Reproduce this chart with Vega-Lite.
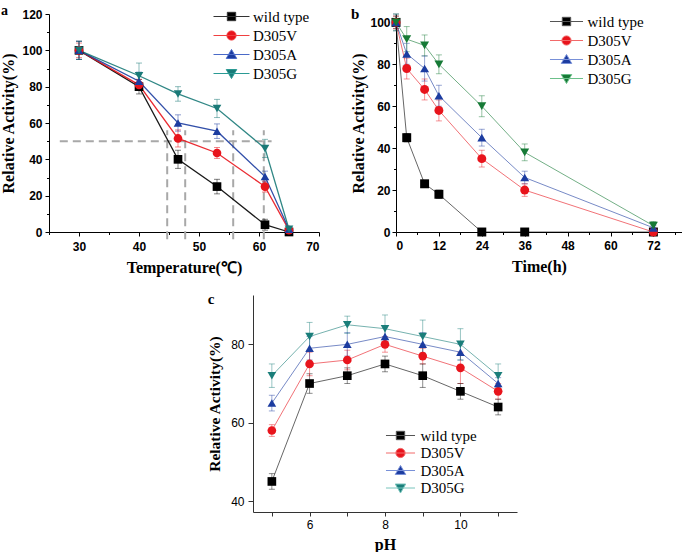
{
  "$schema": "https://vega.github.io/schema/vega-lite/v6.json",
  "padding": {"left": 0, "top": 4, "right": 0, "bottom": 0},
  "background": "white",
  "datasets": {
    "temp": [
      {"temperature": 30, "activity": 100, "error": 5, "series": "wild type"},
      {"temperature": 40, "activity": 80, "error": 4, "series": "wild type"},
      {"temperature": 46.5, "activity": 40, "error": 5, "series": "wild type"},
      {"temperature": 53, "activity": 25, "error": 4, "series": "wild type"},
      {"temperature": 61, "activity": 4, "error": 3, "series": "wild type"},
      {"temperature": 65, "activity": 0, "error": 0, "series": "wild type"},
      {"temperature": 30, "activity": 100, "error": 4, "series": "D305V"},
      {"temperature": 40, "activity": 81, "error": 3, "series": "D305V"},
      {"temperature": 46.5, "activity": 51.5, "error": 4.7, "series": "D305V"},
      {"temperature": 53, "activity": 43.5, "error": 3, "series": "D305V"},
      {"temperature": 61, "activity": 25, "error": 3, "series": "D305V"},
      {"temperature": 65, "activity": 1, "error": 0, "series": "D305V"},
      {"temperature": 30, "activity": 100, "error": 5, "series": "D305A"},
      {"temperature": 40, "activity": 83, "error": 5, "series": "D305A"},
      {"temperature": 46.5, "activity": 60, "error": 4.5, "series": "D305A"},
      {"temperature": 53, "activity": 55.5, "error": 4, "series": "D305A"},
      {"temperature": 61, "activity": 30.5, "error": 3, "series": "D305A"},
      {"temperature": 65, "activity": 1.5, "error": 0, "series": "D305A"},
      {"temperature": 30, "activity": 100, "error": 5, "series": "D305G"},
      {"temperature": 40, "activity": 86, "error": 7, "series": "D305G"},
      {"temperature": 46.5, "activity": 76, "error": 4, "series": "D305G"},
      {"temperature": 53, "activity": 68, "error": 5, "series": "D305G"},
      {"temperature": 61, "activity": 46, "error": 5, "series": "D305G"},
      {"temperature": 65, "activity": 1.5, "error": 0, "series": "D305G"}
    ],
    "dash": [
      {"x": 26.8, "x2": 62.1, "y": 50, "y2": 50},
      {"x": 44.7, "x2": 44.7, "y": -4, "y2": 56},
      {"x": 47.7, "x2": 47.7, "y": -4, "y2": 56},
      {"x": 55.7, "x2": 55.7, "y": -4, "y2": 56},
      {"x": 60.8, "x2": 60.8, "y": -4, "y2": 56}
    ],
    "time": [
      {"time": 0, "activity": 100, "error": 3, "series": "wild type"},
      {"time": 3, "activity": 45, "error": 2, "series": "wild type"},
      {"time": 8, "activity": 23, "error": 1.5, "series": "wild type"},
      {"time": 12, "activity": 18, "error": 2, "series": "wild type"},
      {"time": 24, "activity": 0, "error": 0, "series": "wild type"},
      {"time": 36, "activity": 0, "error": 0, "series": "wild type"},
      {"time": 72, "activity": 0, "error": 0, "series": "wild type"},
      {"time": 0, "activity": 100, "error": 3, "series": "D305V"},
      {"time": 3, "activity": 78, "error": 5, "series": "D305V"},
      {"time": 8, "activity": 68, "error": 5, "series": "D305V"},
      {"time": 12, "activity": 58, "error": 5, "series": "D305V"},
      {"time": 24, "activity": 35, "error": 4, "series": "D305V"},
      {"time": 36, "activity": 20, "error": 3, "series": "D305V"},
      {"time": 72, "activity": 0, "error": 0, "series": "D305V"},
      {"time": 0, "activity": 100, "error": 4, "series": "D305A"},
      {"time": 3, "activity": 85, "error": 5, "series": "D305A"},
      {"time": 8, "activity": 78, "error": 6, "series": "D305A"},
      {"time": 12, "activity": 65, "error": 5, "series": "D305A"},
      {"time": 24, "activity": 45, "error": 4, "series": "D305A"},
      {"time": 36, "activity": 26, "error": 3, "series": "D305A"},
      {"time": 72, "activity": 2, "error": 1, "series": "D305A"},
      {"time": 0, "activity": 100, "error": 4, "series": "D305G"},
      {"time": 3, "activity": 92, "error": 6, "series": "D305G"},
      {"time": 8, "activity": 89, "error": 5, "series": "D305G"},
      {"time": 12, "activity": 80, "error": 4.5, "series": "D305G"},
      {"time": 24, "activity": 60, "error": 5, "series": "D305G"},
      {"time": 36, "activity": 38, "error": 4, "series": "D305G"},
      {"time": 72, "activity": 3, "error": 2, "series": "D305G"}
    ],
    "ph": [
      {"pH": 5, "activity": 45, "error": 2, "series": "wild type"},
      {"pH": 6, "activity": 70, "error": 2.5, "series": "wild type"},
      {"pH": 7, "activity": 72, "error": 2, "series": "wild type"},
      {"pH": 8, "activity": 75, "error": 2, "series": "wild type"},
      {"pH": 9, "activity": 72, "error": 3, "series": "wild type"},
      {"pH": 10, "activity": 68, "error": 2, "series": "wild type"},
      {"pH": 11, "activity": 64, "error": 2, "series": "wild type"},
      {"pH": 5, "activity": 58, "error": 1.5, "series": "D305V"},
      {"pH": 6, "activity": 75, "error": 3, "series": "D305V"},
      {"pH": 7, "activity": 76, "error": 2.5, "series": "D305V"},
      {"pH": 8, "activity": 80, "error": 2, "series": "D305V"},
      {"pH": 9, "activity": 77, "error": 2, "series": "D305V"},
      {"pH": 10, "activity": 74, "error": 4, "series": "D305V"},
      {"pH": 11, "activity": 68, "error": 2, "series": "D305V"},
      {"pH": 5, "activity": 65, "error": 2, "series": "D305A"},
      {"pH": 6, "activity": 79, "error": 3, "series": "D305A"},
      {"pH": 7, "activity": 80, "error": 3, "series": "D305A"},
      {"pH": 8, "activity": 82, "error": 2.5, "series": "D305A"},
      {"pH": 9, "activity": 80, "error": 3, "series": "D305A"},
      {"pH": 10, "activity": 78, "error": 2, "series": "D305A"},
      {"pH": 11, "activity": 70, "error": 1.5, "series": "D305A"},
      {"pH": 5, "activity": 72, "error": 3, "series": "D305G"},
      {"pH": 6, "activity": 82, "error": 3.6, "series": "D305G"},
      {"pH": 7, "activity": 85, "error": 2.2, "series": "D305G"},
      {"pH": 8, "activity": 84, "error": 3.5, "series": "D305G"},
      {"pH": 9, "activity": 82, "error": 4.2, "series": "D305G"},
      {"pH": 10, "activity": 80, "error": 4, "series": "D305G"},
      {"pH": 11, "activity": 72, "error": 3, "series": "D305G"}
    ]
  },
  "resolve": {"scale": {"color": "independent", "shape": "independent", "fill": "independent", "stroke": "independent"}},
  "vconcat": [
    {
      "resolve": {"scale": {"color": "independent", "shape": "independent", "fill": "independent", "stroke": "independent"}},
      "hconcat": [
        {
          "width": 270,
          "height": 218,
          "title": {"text": "a", "anchor": "start", "frame": "bounds", "font": "Liberation Serif", "fontSize": 14, "fontWeight": "bold", "offset": -6, "dy": 4, "color": "#000000"},
          "data": {"name": "temp"},
          "resolve": {"axis": {"x": "independent", "y": "independent"}, "scale": {"shape": "independent", "fill": "independent", "stroke": "independent"}},
          "layer": [
            {
              "data": {"name": "dash"},
              "mark": {"type": "rule", "color": "#a8a8a8", "strokeWidth": 2, "strokeDash": [8, 5]},
              "encoding": {
                "x": {"field": "x", "type": "quantitative", "scale": {"domain": [25, 70], "nice": false, "zero": false}, "axis": null},
                "x2": {"field": "x2"},
                "y": {"field": "y", "type": "quantitative", "scale": {"domain": [0, 120], "nice": false}, "axis": null},
                "y2": {"field": "y2"}
              }
            },
            {
              "mark": {"type": "errorbar", "ticks": {"size": 6, "opacity": 0.5}, "rule": {"opacity": 0.5}},
              "encoding": {
                "x": {"field": "temperature", "type": "quantitative", "axis": null},
                "y": {"field": "activity", "type": "quantitative", "axis": null},
                "yError": {"field": "error"},
                "color": {"field": "series", "type": "nominal", "legend": null}
              }
            },
            {
              "mark": {"type": "line", "strokeWidth": 1.3, "opacity": 0.9},
              "encoding": {
                "x": {"field": "temperature", "type": "quantitative", "axis": {"orient": "bottom", "values": [25, 35, 45, 55, 65], "labels": false, "domain": false, "tickSize": 2.5, "title": null}},
                "y": {"field": "activity", "type": "quantitative", "axis": {"orient": "left", "values": [10, 30, 50, 70, 90, 110], "labels": false, "domain": false, "tickSize": 2.5, "title": null}},
                "color": {"field": "series", "type": "nominal", "legend": null}
              }
            },
            {
              "mark": {"type": "point", "filled": true, "opacity": 1, "size": 75},
              "encoding": {
                "x": {"field": "temperature", "type": "quantitative", "axis": {"orient": "bottom", "values": [30, 40, 50, 60, 70], "title": "Temperature(℃)", "labelPadding": 5, "titlePadding": 7}},
                "y": {"field": "activity", "type": "quantitative", "axis": {"orient": "left", "values": [0, 20, 40, 60, 80, 100, 120], "title": "Relative Activity(%)", "labelPadding": 3, "titlePadding": 5}},
                "color": {"field": "series", "type": "nominal", "scale": {"domain": ["wild type", "D305V", "D305A", "D305G"], "range": ["#000000", "#e8141c", "#1c3ca0", "#1a7a78"]}, "legend": null},
                "shape": {"field": "series", "type": "nominal", "scale": {"domain": ["wild type", "D305V", "D305A", "D305G"], "range": ["square", "circle", "triangle-up", "triangle-down"]}, "legend": null}
              }
            },
            {
              "mark": {"type": "point", "filled": true, "opacity": 0},
              "encoding": {
                "x": {"field": "temperature", "type": "quantitative", "axis": null},
                "y": {"field": "activity", "type": "quantitative", "axis": null},
                "fill": {"field": "series", "type": "nominal", "scale": {"domain": ["wild type", "D305V", "D305A", "D305G"], "range": ["#000000", "#e8141c", "#1c3ca0", "#1a7a78"]},
                  "legend": {"title": null, "orient": "none", "legendX": 175, "legendY": -5, "padding": 0, "symbolSize": 70, "symbolOpacity": 1, "symbolStrokeWidth": 1, "labelOffset": 14, "rowPadding": 3, "labelFont": "Liberation Serif", "labelFontSize": 15, "labelFontWeight": "normal", "labelColor": "#000000"}},
                "stroke": {"field": "series", "type": "nominal", "scale": {"domain": ["wild type", "D305V", "D305A", "D305G"], "range": ["#333333", "#f04040", "#4a6ac8", "#2a9a94"]},
                  "legend": {"title": null, "orient": "none", "legendX": 175, "legendY": -5, "padding": 0, "symbolSize": 70, "symbolOpacity": 1, "symbolStrokeWidth": 1, "labelOffset": 14, "rowPadding": 3, "labelFont": "Liberation Serif", "labelFontSize": 15, "labelFontWeight": "normal", "labelColor": "#000000"}},
                "shape": {"field": "series", "type": "nominal", "scale": {"domain": ["wild type", "D305V", "D305A", "D305G"], "range": ["M-4.3,0H4.3M-1,-1H1V1H-1Z", "M-4.3,0H4.3M-1.1,0A1.1,1.1,0,1,1,1.1,0A1.1,1.1,0,1,1,-1.1,0Z", "M-4.3,0H4.3M0,-1.2L1.25,0.95H-1.25Z", "M-4.3,0H4.3M0,1.2L1.25,-0.95H-1.25Z"]},
                  "legend": {"title": null, "orient": "none", "legendX": 175, "legendY": -5, "padding": 0, "symbolSize": 70, "symbolOpacity": 1, "symbolStrokeWidth": 1, "labelOffset": 14, "rowPadding": 3, "labelFont": "Liberation Serif", "labelFontSize": 15, "labelFontWeight": "normal", "labelColor": "#000000"}}
              }
            }
          ]
        },
        {
          "width": 286,
          "height": 218,
          "title": {"text": "b", "anchor": "start", "frame": "bounds", "font": "Liberation Serif", "fontSize": 15, "fontWeight": "bold", "offset": -6, "dy": 2, "color": "#000000"},
          "data": {"name": "time"},
          "resolve": {"axis": {"x": "independent", "y": "independent"}, "scale": {"shape": "independent", "fill": "independent", "stroke": "independent"}},
          "layer": [
            {
              "mark": {"type": "errorbar", "ticks": {"size": 6, "opacity": 0.45}, "rule": {"opacity": 0.45}},
              "encoding": {
                "x": {"field": "time", "type": "quantitative", "scale": {"domain": [0, 80], "nice": false, "zero": false}, "axis": null},
                "y": {"field": "activity", "type": "quantitative", "scale": {"domain": [0, 104], "nice": false}, "axis": null},
                "yError": {"field": "error"},
                "color": {"field": "series", "type": "nominal", "legend": null}
              }
            },
            {
              "mark": {"type": "line", "strokeWidth": 1, "opacity": 0.6},
              "encoding": {
                "x": {"field": "time", "type": "quantitative", "axis": {"orient": "bottom", "values": [6, 18, 30, 42, 54, 66, 78], "labels": false, "domain": false, "tickSize": 2.5, "title": null}},
                "y": {"field": "activity", "type": "quantitative", "axis": {"orient": "left", "values": [10, 30, 50, 70, 90], "labels": false, "domain": false, "tickSize": 2.5, "title": null}},
                "color": {"field": "series", "type": "nominal", "legend": null}
              }
            },
            {
              "mark": {"type": "point", "filled": true, "opacity": 1, "size": 80},
              "encoding": {
                "x": {"field": "time", "type": "quantitative", "axis": {"orient": "bottom", "values": [0, 12, 24, 36, 48, 60, 72], "title": "Time(h)", "labelPadding": 4.5, "titlePadding": 7}},
                "y": {"field": "activity", "type": "quantitative", "axis": {"orient": "left", "values": [0, 20, 40, 60, 80, 100], "title": "Relative Activity(%)", "labelPadding": 2, "titlePadding": 3}},
                "color": {"field": "series", "type": "nominal", "scale": {"domain": ["wild type", "D305V", "D305A", "D305G"], "range": ["#000000", "#e8141c", "#1c3ca0", "#167a36"]}, "legend": null},
                "shape": {"field": "series", "type": "nominal", "scale": {"domain": ["wild type", "D305V", "D305A", "D305G"], "range": ["square", "circle", "triangle-up", "triangle-down"]}, "legend": null}
              }
            },
            {
              "mark": {"type": "point", "filled": true, "opacity": 0},
              "encoding": {
                "x": {"field": "time", "type": "quantitative", "axis": null},
                "y": {"field": "activity", "type": "quantitative", "axis": null},
                "fill": {"field": "series", "type": "nominal", "scale": {"domain": ["wild type", "D305V", "D305A", "D305G"], "range": ["#000000", "#e8141c", "#1c3ca0", "#167a36"]},
                  "legend": {"title": null, "orient": "none", "legendX": 163, "legendY": 0, "padding": 0, "symbolSize": 70, "symbolOpacity": 1, "symbolStrokeWidth": 1, "labelOffset": 13.5, "rowPadding": 3, "labelFont": "Liberation Serif", "labelFontSize": 15, "labelFontWeight": "normal", "labelColor": "#000000"}},
                "stroke": {"field": "series", "type": "nominal", "scale": {"domain": ["wild type", "D305V", "D305A", "D305G"], "range": ["#555555", "#f26a6a", "#7890d8", "#6cc08a"]},
                  "legend": {"title": null, "orient": "none", "legendX": 163, "legendY": 0, "padding": 0, "symbolSize": 70, "symbolOpacity": 1, "symbolStrokeWidth": 1, "labelOffset": 13.5, "rowPadding": 3, "labelFont": "Liberation Serif", "labelFontSize": 15, "labelFontWeight": "normal", "labelColor": "#000000"}},
                "shape": {"field": "series", "type": "nominal", "scale": {"domain": ["wild type", "D305V", "D305A", "D305G"], "range": ["M-3.95,0H3.95M-1,-1H1V1H-1Z", "M-3.95,0H3.95M-1.1,0A1.1,1.1,0,1,1,1.1,0A1.1,1.1,0,1,1,-1.1,0Z", "M-3.95,0H3.95M0,-1.2L1.25,0.95H-1.25Z", "M-3.95,0H3.95M0,1.2L1.25,-0.95H-1.25Z"]},
                  "legend": {"title": null, "orient": "none", "legendX": 163, "legendY": 0, "padding": 0, "symbolSize": 70, "symbolOpacity": 1, "symbolStrokeWidth": 1, "labelOffset": 13.5, "rowPadding": 3, "labelFont": "Liberation Serif", "labelFontSize": 15, "labelFontWeight": "normal", "labelColor": "#000000"}}
              }
            }
          ]
        }
      ],
      "spacing": 30
    },
    {
      "resolve": {"scale": {"color": "independent", "shape": "independent", "fill": "independent", "stroke": "independent"}},
      "hconcat": [
        {
          "width": 144,
          "height": 10,
          "data": {"values": [{"blank": 0}]},
          "mark": {"type": "point", "opacity": 0},
          "encoding": {}
        },
        {
          "width": 264,
          "height": 217,
          "title": {"text": "c", "anchor": "start", "frame": "bounds", "font": "Liberation Serif", "fontSize": 15, "fontWeight": "bold", "offset": -12, "color": "#000000"},
          "data": {"name": "ph"},
          "resolve": {"axis": {"x": "independent", "y": "independent"}, "scale": {"shape": "independent", "fill": "independent", "stroke": "independent"}},
          "layer": [
            {
              "mark": {"type": "errorbar", "ticks": {"size": 6, "opacity": 0.45}, "rule": {"opacity": 0.45}},
              "encoding": {
                "x": {"field": "pH", "type": "quantitative", "scale": {"domain": [4.5, 11.5], "nice": false, "zero": false}, "axis": null},
                "y": {"field": "activity", "type": "quantitative", "scale": {"domain": [37.2, 92.6], "nice": false, "zero": false}, "axis": null},
                "yError": {"field": "error"},
                "color": {"field": "series", "type": "nominal", "legend": null}
              }
            },
            {
              "mark": {"type": "line", "strokeWidth": 1, "opacity": 0.6},
              "encoding": {
                "x": {"field": "pH", "type": "quantitative", "axis": null},
                "y": {"field": "activity", "type": "quantitative", "axis": null},
                "color": {"field": "series", "type": "nominal", "legend": null}
              }
            },
            {
              "mark": {"type": "point", "filled": true, "opacity": 1, "size": 75},
              "encoding": {
                "x": {"field": "pH", "type": "quantitative", "axis": {"orient": "bottom", "values": [5, 6, 7, 8, 9, 10, 11], "labelExpr": "datum.value % 2 === 0 ? datum.label : ''", "title": "pH", "labelFontWeight": "normal", "domainColor": "#333333", "tickColor": "#333333", "labelPadding": 3, "titlePadding": 6}},
                "y": {"field": "activity", "type": "quantitative", "axis": {"orient": "left", "values": [40, 60, 80], "title": "Relative Activity(%)", "titleFontSize": 15.5, "labelFontWeight": "normal", "domainColor": "#333333", "tickColor": "#333333", "tickSize": 5, "labelPadding": 4, "titlePadding": 8}},
                "color": {"field": "series", "type": "nominal", "scale": {"domain": ["wild type", "D305V", "D305A", "D305G"], "range": ["#000000", "#e8141c", "#1c3ca0", "#1a7e7a"]}, "legend": null},
                "shape": {"field": "series", "type": "nominal", "scale": {"domain": ["wild type", "D305V", "D305A", "D305G"], "range": ["square", "circle", "triangle-up", "triangle-down"]}, "legend": null}
              }
            },
            {
              "mark": {"type": "point", "filled": true, "opacity": 0},
              "encoding": {
                "x": {"field": "pH", "type": "quantitative", "axis": null},
                "y": {"field": "activity", "type": "quantitative", "axis": null},
                "fill": {"field": "series", "type": "nominal", "scale": {"domain": ["wild type", "D305V", "D305A", "D305G"], "range": ["#000000", "#e8141c", "#1c3ca0", "#1a7e7a"]},
                  "legend": {"title": null, "orient": "none", "legendX": 140, "legendY": 133, "padding": 0, "symbolSize": 70, "symbolOpacity": 1, "symbolStrokeWidth": 1, "labelOffset": 12.5, "rowPadding": 1.5, "labelFont": "Liberation Serif", "labelFontSize": 15, "labelFontWeight": "normal", "labelColor": "#000000"}},
                "stroke": {"field": "series", "type": "nominal", "scale": {"domain": ["wild type", "D305V", "D305A", "D305G"], "range": ["#555555", "#f26a6a", "#7890d8", "#78c4bc"]},
                  "legend": {"title": null, "orient": "none", "legendX": 140, "legendY": 133, "padding": 0, "symbolSize": 70, "symbolOpacity": 1, "symbolStrokeWidth": 1, "labelOffset": 12.5, "rowPadding": 1.5, "labelFont": "Liberation Serif", "labelFontSize": 15, "labelFontWeight": "normal", "labelColor": "#000000"}},
                "shape": {"field": "series", "type": "nominal", "scale": {"domain": ["wild type", "D305V", "D305A", "D305G"], "range": ["M-3.47,0H3.47M-1,-1H1V1H-1Z", "M-3.47,0H3.47M-1.1,0A1.1,1.1,0,1,1,1.1,0A1.1,1.1,0,1,1,-1.1,0Z", "M-3.47,0H3.47M0,-1.2L1.25,0.95H-1.25Z", "M-3.47,0H3.47M0,1.2L1.25,-0.95H-1.25Z"]},
                  "legend": {"title": null, "orient": "none", "legendX": 140, "legendY": 133, "padding": 0, "symbolSize": 70, "symbolOpacity": 1, "symbolStrokeWidth": 1, "labelOffset": 12.5, "rowPadding": 1.5, "labelFont": "Liberation Serif", "labelFontSize": 15, "labelFontWeight": "normal", "labelColor": "#000000"}}
              }
            }
          ]
        }
      ],
      "spacing": 14
    }
  ],
  "spacing": 17,
  "config": {
    "view": {"stroke": null},
    "axis": {
      "grid": false,
      "domainColor": "#000000",
      "tickColor": "#000000",
      "labelColor": "#000000",
      "titleColor": "#000000",
      "labelFont": "Liberation Sans",
      "labelFontWeight": "bold",
      "labelFontSize": 12,
      "titleFont": "Liberation Serif",
      "titleFontWeight": "bold",
      "titleFontSize": 16,
      "tickSize": 4,
      "domainWidth": 1,
      "tickWidth": 1
    }
  }
}
